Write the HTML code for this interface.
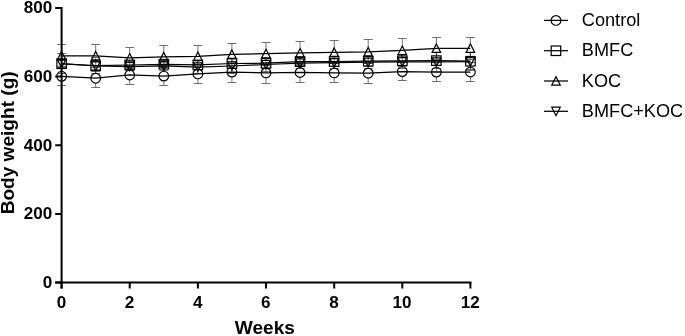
<!DOCTYPE html>
<html><head><meta charset="utf-8"><title>Body weight</title>
<style>
html,body{margin:0;padding:0;background:#fff}
svg{display:block}
text{font-family:"Liberation Sans",Arial,sans-serif;fill:#000}
.tl{font-size:15.7px;font-weight:bold}
.al{font-size:17.5px;font-weight:bold}
.lt{font-size:17.5px}
.ax{stroke:#000;stroke-width:2;fill:none}
.ln{stroke:#000;stroke-width:1.25;fill:none}
.mk{stroke:#000;stroke-width:1.2;fill:none}
.eb{stroke:#444;stroke-width:0.75;fill:none}
</style></head><body>
<svg width="685" height="336" viewBox="0 0 685 336">
<rect width="685" height="336" fill="#fff"/>
<path d="M61.6 67.5V71.5M61.6 81.1V85.5M57.1 67.5h9M57.1 85.5h9M95.7 69.5V73.4M95.7 83.0V87.5M91.2 69.5h9M91.2 87.5h9M129.7 65.5V70.2M129.7 79.8V84.5M125.2 65.5h9M125.2 84.5h9M163.8 66.5V71.2M163.8 80.9V85.5M159.3 66.5h9M159.3 85.5h9M197.9 64.5V69.1M197.9 78.8V83.5M193.4 64.5h9M193.4 83.5h9M231.9 61.5V67.2M231.9 76.9V82.5M227.4 61.5h9M227.4 82.5h9M266.0 62.5V68.1M266.0 77.8V83.5M261.5 62.5h9M261.5 83.5h9M300.1 62.5V67.7M300.1 77.3V82.5M295.6 62.5h9M295.6 82.5h9M334.2 63.5V68.1M334.2 77.8V82.5M329.7 63.5h9M329.7 82.5h9M368.2 63.5V68.4M368.2 78.0V83.5M363.7 63.5h9M363.7 83.5h9M402.3 62.5V66.8M402.3 76.4V80.5M397.8 62.5h9M397.8 80.5h9M436.4 62.5V67.2M436.4 76.9V81.5M431.9 62.5h9M431.9 81.5h9M470.4 62.5V67.2M470.4 76.8V81.5M465.9 62.5h9M465.9 81.5h9" class="eb"/>
<path d="M61.6 53.5V59.0M61.6 68.5V73.5M57.1 53.5h9M57.1 73.5h9M95.7 57.5V61.0M95.7 70.5V73.5M91.2 57.5h9M91.2 73.5h9M129.7 62.5V60.2M129.7 69.8V67.5M125.2 62.5h9M125.2 67.5h9M163.8 61.5V59.5M163.8 69.0V67.5M159.3 61.5h9M159.3 67.5h9M197.9 60.5V60.2M197.9 69.7V69.5M193.4 60.5h9M193.4 69.5h9M231.9 58.5V58.8M231.9 68.2V68.5M227.4 58.5h9M227.4 68.5h9M266.0 58.5V58.5M266.0 68.0V68.5M261.5 58.5h9M261.5 68.5h9M300.1 57.5V56.9M300.1 66.3V65.5M295.6 57.5h9M295.6 65.5h9M334.2 56.5V56.8M334.2 66.2V66.5M329.7 56.5h9M329.7 66.5h9M368.2 56.5V56.5M368.2 66.0V66.5M363.7 56.5h9M363.7 66.5h9M402.3 54.5V56.0M402.3 65.5V66.5M397.8 54.5h9M397.8 66.5h9M436.4 52.5V55.9M436.4 65.3V68.5M431.9 52.5h9M431.9 68.5h9M470.4 52.5V56.5M470.4 66.0V69.5M465.9 52.5h9M465.9 69.5h9" class="eb"/>
<path d="M61.6 44.5V51.4M61.6 59.9V67.5M57.1 44.5h9M57.1 67.5h9M95.7 44.5V51.4M95.7 59.9V67.5M91.2 44.5h9M91.2 67.5h9M129.7 47.5V53.5M129.7 62.0V68.5M125.2 47.5h9M125.2 68.5h9M163.8 45.5V52.4M163.8 60.9V67.5M159.3 45.5h9M159.3 67.5h9M197.9 45.5V52.0M197.9 60.5V67.5M193.4 45.5h9M193.4 67.5h9M231.9 43.5V49.9M231.9 58.4V65.5M227.4 43.5h9M227.4 65.5h9M266.0 42.5V49.2M266.0 57.8V65.5M261.5 42.5h9M261.5 65.5h9M300.1 41.5V48.5M300.1 57.0V64.5M295.6 41.5h9M295.6 64.5h9M334.2 40.5V47.9M334.2 56.4V63.5M329.7 40.5h9M329.7 63.5h9M368.2 39.5V47.4M368.2 55.9V63.5M363.7 39.5h9M363.7 63.5h9M402.3 38.5V46.0M402.3 54.5V62.5M397.8 38.5h9M397.8 62.5h9M436.4 37.5V43.9M436.4 52.4V59.5M431.9 37.5h9M431.9 59.5h9M470.4 37.5V43.9M470.4 52.4V59.5M465.9 37.5h9M465.9 59.5h9" class="eb"/>
<path d="M61.6 60.5V59.4M61.6 67.8V66.5M57.1 60.5h9M57.1 66.5h9M95.7 60.5V61.9M95.7 70.3V71.5M91.2 60.5h9M91.2 71.5h9M129.7 62.5V62.4M129.7 70.8V70.5M125.2 62.5h9M125.2 70.5h9M163.8 61.5V61.9M163.8 70.3V70.5M159.3 61.5h9M159.3 70.5h9M197.9 60.5V62.9M197.9 71.3V73.5M193.4 60.5h9M193.4 73.5h9M231.9 58.5V61.9M231.9 70.3V73.5M227.4 58.5h9M227.4 73.5h9M266.0 58.5V60.4M266.0 68.8V71.5M261.5 58.5h9M261.5 71.5h9M300.1 57.5V59.0M300.1 67.5V68.5M295.6 57.5h9M295.6 68.5h9M334.2 56.5V58.6M334.2 67.0V68.5M329.7 56.5h9M329.7 68.5h9M368.2 56.5V58.1M368.2 66.5V68.5M363.7 56.5h9M363.7 68.5h9M402.3 54.5V57.6M402.3 66.1V68.5M397.8 54.5h9M397.8 68.5h9M436.4 52.5V57.9M436.4 66.3V71.5M431.9 52.5h9M431.9 71.5h9M470.4 52.5V57.6M470.4 66.0V70.5M465.9 52.5h9M465.9 70.5h9" class="eb"/>
<circle class="mk" cx="61.6" cy="76.3" r="4.85"/><circle class="mk" cx="95.7" cy="78.2" r="4.85"/><circle class="mk" cx="129.7" cy="75.0" r="4.85"/><circle class="mk" cx="163.8" cy="76.1" r="4.85"/><circle class="mk" cx="197.9" cy="73.9" r="4.85"/><circle class="mk" cx="231.9" cy="72.1" r="4.85"/><circle class="mk" cx="266.0" cy="72.9" r="4.85"/><circle class="mk" cx="300.1" cy="72.5" r="4.85"/><circle class="mk" cx="334.2" cy="72.9" r="4.85"/><circle class="mk" cx="368.2" cy="73.2" r="4.85"/><circle class="mk" cx="402.3" cy="71.6" r="4.85"/><circle class="mk" cx="436.4" cy="72.1" r="4.85"/><circle class="mk" cx="470.4" cy="72.0" r="4.85"/>
<polyline class="ln" points="61.6,76.3 95.7,78.2 129.7,75.0 163.8,76.1 197.9,73.9 231.9,72.1 266.0,72.9 300.1,72.5 334.2,72.9 368.2,73.2 402.3,71.6 436.4,72.1 470.4,72.0"/>
<rect class="mk" x="56.9" y="59.0" width="9.5" height="9.5"/><rect class="mk" x="90.9" y="61.0" width="9.5" height="9.5"/><rect class="mk" x="125.0" y="60.2" width="9.5" height="9.5"/><rect class="mk" x="159.1" y="59.5" width="9.5" height="9.5"/><rect class="mk" x="193.1" y="60.2" width="9.5" height="9.5"/><rect class="mk" x="227.2" y="58.8" width="9.5" height="9.5"/><rect class="mk" x="261.3" y="58.5" width="9.5" height="9.5"/><rect class="mk" x="295.3" y="56.9" width="9.5" height="9.5"/><rect class="mk" x="329.4" y="56.8" width="9.5" height="9.5"/><rect class="mk" x="363.5" y="56.5" width="9.5" height="9.5"/><rect class="mk" x="397.6" y="56.0" width="9.5" height="9.5"/><rect class="mk" x="431.6" y="55.9" width="9.5" height="9.5"/><rect class="mk" x="465.7" y="56.5" width="9.5" height="9.5"/>
<polyline class="ln" points="61.6,63.8 95.7,65.7 129.7,65.0 163.8,64.3 197.9,64.9 231.9,63.5 266.0,63.2 300.1,61.6 334.2,61.5 368.2,61.2 402.3,60.8 436.4,60.6 470.4,61.2"/>
<path class="mk" d="M61.6 51.45L65.9 59.95H57.3Z"/><path class="mk" d="M95.7 51.45L100.0 59.95H91.4Z"/><path class="mk" d="M129.7 53.55L134.0 62.05H125.4Z"/><path class="mk" d="M163.8 52.45L168.1 60.95H159.5Z"/><path class="mk" d="M197.9 52.05L202.2 60.55H193.6Z"/><path class="mk" d="M231.9 49.95L236.2 58.45H227.6Z"/><path class="mk" d="M266.0 49.25L270.3 57.75H261.7Z"/><path class="mk" d="M300.1 48.55L304.4 57.05H295.8Z"/><path class="mk" d="M334.2 47.95L338.5 56.45H329.9Z"/><path class="mk" d="M368.2 47.45L372.5 55.95H363.9Z"/><path class="mk" d="M402.3 46.05L406.6 54.55H398.0Z"/><path class="mk" d="M436.4 43.95L440.7 52.45H432.1Z"/><path class="mk" d="M470.4 43.95L474.7 52.45H466.1Z"/>
<polyline class="ln" points="61.6,55.8 95.7,55.8 129.7,57.9 163.8,56.8 197.9,56.4 231.9,54.3 266.0,53.6 300.1,52.9 334.2,52.3 368.2,51.8 402.3,50.4 436.4,48.3 470.4,48.3"/>
<path class="mk" d="M61.6 67.85L65.9 59.35H57.3Z"/><path class="mk" d="M95.7 70.35L100.0 61.85H91.4Z"/><path class="mk" d="M129.7 70.85L134.0 62.35H125.4Z"/><path class="mk" d="M163.8 70.35L168.1 61.85H159.5Z"/><path class="mk" d="M197.9 71.35L202.2 62.85H193.6Z"/><path class="mk" d="M231.9 70.35L236.2 61.85H227.6Z"/><path class="mk" d="M266.0 68.85L270.3 60.35H261.7Z"/><path class="mk" d="M300.1 67.45L304.4 58.95H295.8Z"/><path class="mk" d="M334.2 67.05L338.5 58.55H329.9Z"/><path class="mk" d="M368.2 66.55L372.5 58.05H363.9Z"/><path class="mk" d="M402.3 66.15L406.6 57.65H398.0Z"/><path class="mk" d="M436.4 66.35L440.7 57.85H432.1Z"/><path class="mk" d="M470.4 66.05L474.7 57.55H466.1Z"/>
<polyline class="ln" points="61.6,63.5 95.7,66.0 129.7,66.5 163.8,66.0 197.9,67.0 231.9,66.0 266.0,64.5 300.1,63.1 334.2,62.7 368.2,62.2 402.3,61.8 436.4,62.0 470.4,61.7"/>
<path class="ax" d="M61.6 7V288.5M55.2 282.5H471.4"/>
<text class="tl" transform="translate(52.2 287.75) scale(1.09 1)" text-anchor="end">0</text>
<text class="tl" transform="translate(52.2 219.12) scale(1.09 1)" text-anchor="end">200</text>
<text class="tl" transform="translate(52.2 150.50) scale(1.09 1)" text-anchor="end">400</text>
<text class="tl" transform="translate(52.2 81.88) scale(1.09 1)" text-anchor="end">600</text>
<text class="tl" transform="translate(52.2 13.25) scale(1.09 1)" text-anchor="end">800</text>
<text class="tl" transform="translate(61.4 307.75) scale(1.09 1)" text-anchor="middle">0</text>
<text class="tl" transform="translate(129.5 307.75) scale(1.09 1)" text-anchor="middle">2</text>
<text class="tl" transform="translate(197.7 307.75) scale(1.09 1)" text-anchor="middle">4</text>
<text class="tl" transform="translate(265.8 307.75) scale(1.09 1)" text-anchor="middle">6</text>
<text class="tl" transform="translate(334.0 307.75) scale(1.09 1)" text-anchor="middle">8</text>
<text class="tl" transform="translate(402.1 307.75) scale(1.09 1)" text-anchor="middle">10</text>
<text class="tl" transform="translate(470.2 307.75) scale(1.09 1)" text-anchor="middle">12</text>
<path class="ax" d="M55.2 282.50H61.6M55.2 213.88H61.6M55.2 145.25H61.6M55.2 76.62H61.6M55.2 8.00H61.6M61.6 282.5V288.5M129.7 282.5V288.5M197.9 282.5V288.5M266.0 282.5V288.5M334.2 282.5V288.5M402.3 282.5V288.5M470.4 282.5V288.5"/>
<text class="al" transform="translate(264.9 333.6) scale(1.09 1)" text-anchor="middle">Weeks</text>
<text class="al" transform="translate(14.3 142.85) rotate(-90) scale(1.09 1)" text-anchor="middle">Body weight (g)</text>
<path class="ln" d="M544 20.4H568"/>
<circle class="mk" cx="556.0" cy="20.4" r="4.85"/>
<text class="lt" transform="translate(581.8 26.0) scale(1.038 1)">Control</text>
<path class="ln" d="M544 50.7H568"/>
<rect class="mk" x="551.2" y="46.0" width="9.5" height="9.5"/>
<text class="lt" transform="translate(581.8 56.3) scale(1.038 1)">BMFC</text>
<path class="ln" d="M544 81.0H568"/>
<path class="mk" d="M556.0 76.65L560.3 85.15H551.7Z"/>
<text class="lt" transform="translate(581.8 86.6) scale(1.038 1)">KOC</text>
<path class="ln" d="M544 111.3H568"/>
<path class="mk" d="M556.0 115.65L560.3 107.15H551.7Z"/>
<text class="lt" transform="translate(581.8 116.9) scale(1.038 1)">BMFC+KOC</text>
</svg>
</body></html>
